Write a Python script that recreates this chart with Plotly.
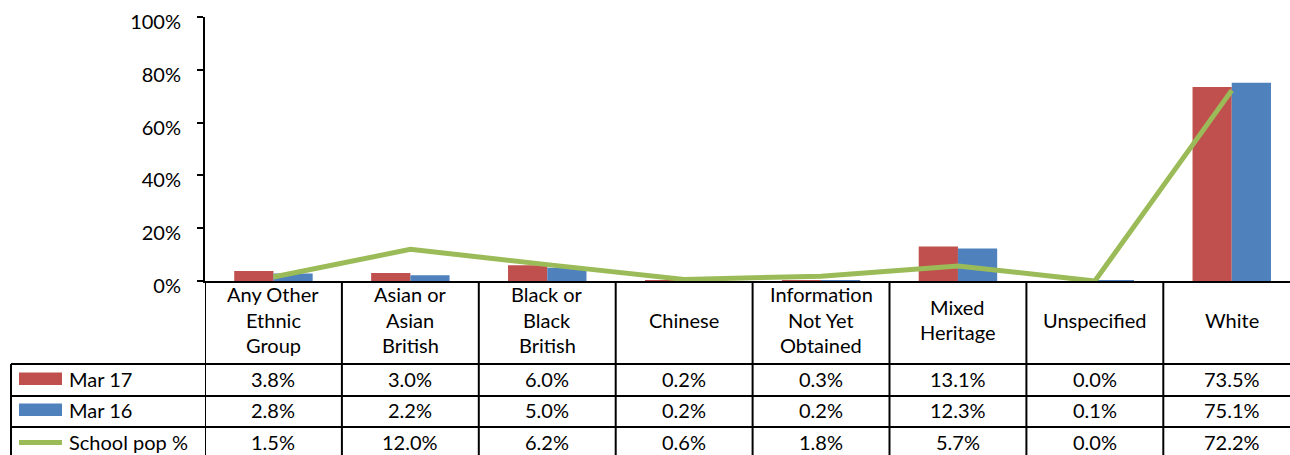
import plotly.graph_objects as go

# Ethnic group categories (each entry is the list of lines shown in the table header)
category_lines = [
    ["Any Other", "Ethnic", "Group"],
    ["Asian or", "Asian", "British"],
    ["Black or", "Black", "British"],
    ["Chinese"],
    ["Information", "Not Yet", "Obtained"],
    ["Mixed", "Heritage"],
    ["Unspecified"],
    ["White"],
]

# Percentages per category
mar17 = [3.8, 3.0, 6.0, 0.2, 0.3, 13.1, 0.0, 73.5]
mar16 = [2.8, 2.2, 5.0, 0.2, 0.2, 12.3, 0.1, 75.1]
school_pop = [1.5, 12.0, 6.2, 0.6, 1.8, 5.7, 0.0, 72.2]

series_names = ["Mar 17", "Mar 16", "School pop %"]
y_ticks = [0, 20, 40, 60, 80, 100]
y_tick_labels = ["0%", "20%", "40%", "60%", "80%", "100%"]

RED = "#C0504D"
BLUE = "#4F81BD"
GREEN = "#9BBB59"
FONT = "Lato"

W, H = 1290, 455
PLOT_L, PLOT_T, PLOT_B = 205, 17, 281
CAT_W = 136.9

def py(pix):
    """pixel row -> paper y"""
    return (PLOT_B - pix) / (PLOT_B - PLOT_T)

def px(pix):
    """pixel column -> paper x"""
    return (pix - PLOT_L) / (W - PLOT_L)

x = list(range(len(category_lines)))

fig = go.Figure()
fig.add_trace(go.Bar(x=x, y=mar17, name=series_names[0], marker=dict(color=RED, line=dict(width=0))))
fig.add_trace(go.Bar(x=x, y=mar16, name=series_names[1], marker=dict(color=BLUE, line=dict(width=0))))
fig.add_trace(go.Scatter(x=x, y=school_pop, name=series_names[2], mode="lines",
                         line=dict(color=GREEN, width=5)))

shapes = []
annotations = []

# horizontal rules of the data table
for row_y in [364, 396, 427]:
    shapes.append(dict(type="line", xref="paper", yref="paper",
                       x0=px(11), x1=px(W + 5), y0=py(row_y), y1=py(row_y),
                       line=dict(color="black", width=2)))
# column dividers between categories
for k in range(len(category_lines)):
    shapes.append(dict(type="line", xref="x", yref="paper",
                       x0=k - 0.5, x1=k - 0.5, y0=0, y1=py(H + 5),
                       line=dict(color="black", width=2)))
# left edge of the series-name column
shapes.append(dict(type="line", xref="paper", yref="paper",
                   x0=px(11), x1=px(11), y0=py(364), y1=py(H + 5),
                   line=dict(color="black", width=2)))

# series keys inside the table
row_centers = [378.5, 409.5, 442]
shapes.append(dict(type="rect", xref="paper", yref="paper",
                   x0=px(19), x1=px(62), y0=py(372.5), y1=py(385),
                   fillcolor=RED, line=dict(width=0)))
shapes.append(dict(type="rect", xref="paper", yref="paper",
                   x0=px(19), x1=px(62), y0=py(403.5), y1=py(416),
                   fillcolor=BLUE, line=dict(width=0)))
shapes.append(dict(type="line", xref="paper", yref="paper",
                   x0=px(19), x1=px(62), y0=py(442.5), y1=py(442.5),
                   line=dict(color=GREEN, width=5)))

text_font = dict(family=FONT, size=20, color="black")

for name, yc in zip(series_names, row_centers):
    annotations.append(dict(text=name, xref="paper", yref="paper",
                            x=px(67), y=py(yc), xanchor="left", yanchor="middle",
                            showarrow=False, font=text_font))

# category header cells
for k, lines in enumerate(category_lines):
    n = len(lines)
    for i, line in enumerate(lines):
        yc = 319.5 + (i - (n - 1) / 2) * 25.7
        annotations.append(dict(text=line, xref="x", yref="paper", x=k, y=py(yc),
                                xanchor="center", yanchor="middle",
                                showarrow=False, font=text_font))

# value cells
for values, yc in zip([mar17, mar16, school_pop], row_centers):
    for k, v in enumerate(values):
        annotations.append(dict(text=f"{v:.1f}%", xref="x", yref="paper", x=k, y=py(yc),
                                xanchor="center", yanchor="middle",
                                showarrow=False, font=text_font))

fig.update_layout(
    width=W, height=H,
    margin=dict(l=PLOT_L, r=0, t=PLOT_T, b=H - PLOT_B, pad=0),
    paper_bgcolor="white", plot_bgcolor="white",
    barmode="group", bargap=0.427, bargroupgap=0,
    showlegend=False,
    shapes=shapes, annotations=annotations,
    xaxis=dict(range=[-0.5, -0.5 + (W - PLOT_L) / CAT_W], showticklabels=False,
               showgrid=False, zeroline=False, showline=True, linecolor="black",
               linewidth=2, ticks=""),
    yaxis=dict(range=[0, 100], tickmode="array", tickvals=y_ticks, ticktext=y_tick_labels,
               showgrid=False, zeroline=False, showline=True, linecolor="black", linewidth=2,
               ticks="outside", ticklen=6, tickwidth=2, tickcolor="black",
               ticklabelstandoff=12, ticklabelshift=5,
               tickfont=dict(family=FONT, size=20, color="black")),
)

fig.write_html("out.html")
